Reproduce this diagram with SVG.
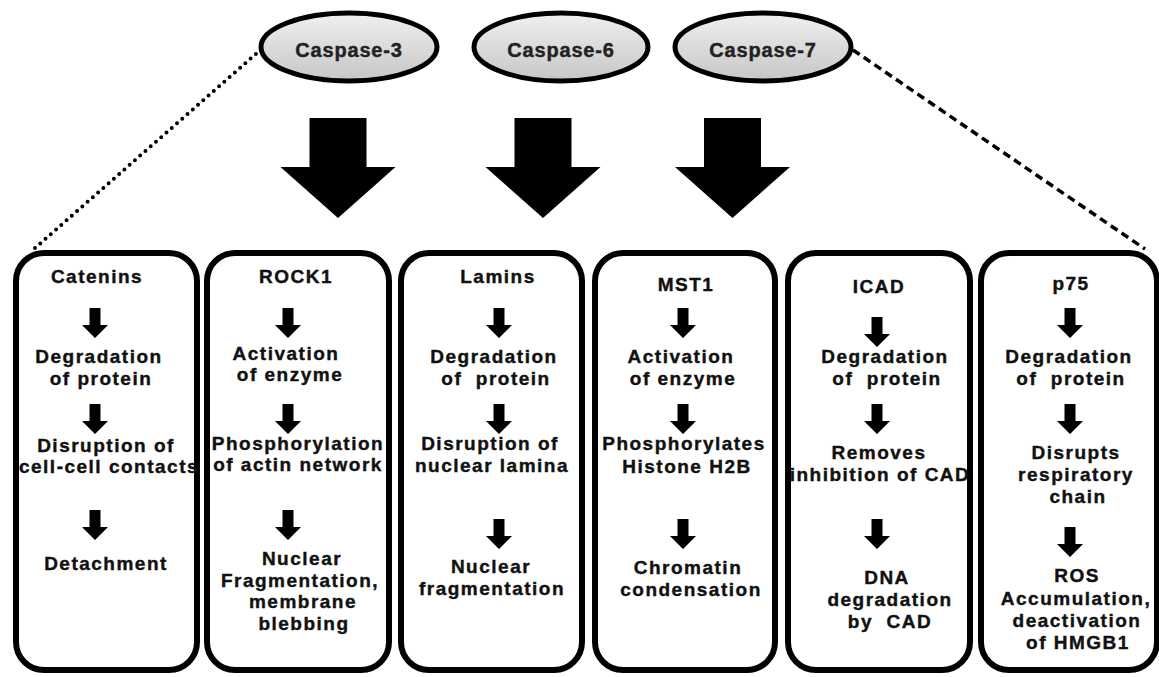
<svg xmlns="http://www.w3.org/2000/svg" xmlns:xlink="http://www.w3.org/1999/xlink" width="1159" height="677" viewBox="0 0 1159 677">
<style>
.bg{fill:#ffffff}
.box{fill:#ffffff;stroke:#000;stroke-width:6}
.ell{fill:url(#eg);stroke:#000;stroke-width:5}
.t{font-family:"Liberation Sans",Arial,sans-serif;font-weight:bold;font-size:19px;letter-spacing:1.5px;fill:#111;stroke:#111;stroke-width:0.4px;text-anchor:middle}
.ct{font-family:"Liberation Sans",Arial,sans-serif;font-weight:bold;font-size:20px;letter-spacing:0.8px;fill:#222;stroke:#222;stroke-width:0.4px;text-anchor:middle}
.dot{fill:none;stroke:#000;stroke-width:4;stroke-linecap:round;stroke-dasharray:0 7}
.dash{fill:none;stroke:#000;stroke-width:3.5;stroke-dasharray:8 5}
</style>
<defs>
<linearGradient id="eg" x1="0" y1="0" x2="0" y2="1">
<stop offset="0" stop-color="#f0f0f0"/>
<stop offset="1" stop-color="#c6c6c6"/>
</linearGradient>
<path id="sa" d="M-5.5,0 h11 v17 h7.5 l-13,13 l-13,-13 h7.5 z" fill="#000"/>
<path id="ba" d="M-28.5,0 h57 v49 h29 l-57.5,51 l-57.5,-51 h29 z" fill="#000"/>
</defs>
<rect class="bg" x="0" y="0" width="1159" height="677"/>

<g id="connectors">
<line class="dot" x1="35" y1="248" x2="257" y2="53"/>
<line class="dash" x1="853" y1="50" x2="1145" y2="249"/>
<use xlink:href="#ba" x="338" y="118"/>
<use xlink:href="#ba" x="543" y="118"/>
<use xlink:href="#ba" x="732.5" y="118"/>
</g>

<g id="caspase3">
<ellipse class="ell" cx="349" cy="47" rx="88" ry="34"/>
<text class="ct" x="349" y="57">Caspase-3</text>
</g>
<g id="caspase6">
<ellipse class="ell" cx="561" cy="47" rx="87" ry="34"/>
<text class="ct" x="561" y="57">Caspase-6</text>
</g>
<g id="caspase7">
<ellipse class="ell" cx="763" cy="47" rx="88" ry="34"/>
<text class="ct" x="763" y="57">Caspase-7</text>
</g>

<g id="catenins">
<rect class="box" x="16" y="253" width="181" height="417" rx="28"/>
<text class="t" x="97" y="283">Catenins</text>
<use xlink:href="#sa" x="95" y="308"/>
<text class="t" x="99" y="363">Degradation</text>
<text class="t" x="101" y="385">of protein</text>
<use xlink:href="#sa" x="95" y="404"/>
<text class="t" x="106" y="452">Disruption of</text>
<text class="t" x="109" y="473">cell-cell contacts</text>
<use xlink:href="#sa" x="95" y="510"/>
<text class="t" x="106" y="570">Detachment</text>
</g>

<g id="rock1">
<rect class="box" x="207" y="253" width="182" height="417" rx="28"/>
<text class="t" x="296" y="283">ROCK1</text>
<use xlink:href="#sa" x="288" y="308"/>
<text class="t" x="286" y="360">Activation</text>
<text class="t" x="290" y="381">of enzyme</text>
<use xlink:href="#sa" x="288" y="404"/>
<text class="t" x="298" y="450">Phosphorylation</text>
<text class="t" x="298" y="471">of actin network</text>
<use xlink:href="#sa" x="288" y="510"/>
<text class="t" x="302" y="565">Nuclear</text>
<text class="t" x="300" y="587">Fragmentation,</text>
<text class="t" x="303" y="608">membrane</text>
<text class="t" x="304" y="630">blebbing</text>
</g>

<g id="lamins">
<rect class="box" x="401" y="253" width="181" height="417" rx="28"/>
<text class="t" x="498" y="283">Lamins</text>
<use xlink:href="#sa" x="499" y="308"/>
<text class="t" x="494" y="363">Degradation</text>
<text class="t" x="496" y="385" xml:space="preserve">of  protein</text>
<use xlink:href="#sa" x="499" y="404"/>
<text class="t" x="490" y="450">Disruption of</text>
<text class="t" x="492" y="472">nuclear lamina</text>
<use xlink:href="#sa" x="499" y="519"/>
<text class="t" x="491" y="573">Nuclear</text>
<text class="t" x="492" y="595">fragmentation</text>
</g>

<g id="mst1">
<rect class="box" x="595" y="253" width="180" height="417" rx="28"/>
<text class="t" x="686" y="291">MST1</text>
<use xlink:href="#sa" x="683" y="308"/>
<text class="t" x="681" y="363">Activation</text>
<text class="t" x="683" y="385">of enzyme</text>
<use xlink:href="#sa" x="683" y="404"/>
<text class="t" x="684" y="450">Phosphorylates</text>
<text class="t" x="687" y="473">Histone H2B</text>
<use xlink:href="#sa" x="683" y="519"/>
<text class="t" x="688" y="574">Chromatin</text>
<text class="t" x="691" y="596">condensation</text>
</g>

<g id="icad">
<rect class="box" x="788" y="253" width="182" height="417" rx="28"/>
<text class="t" x="879" y="293">ICAD</text>
<use xlink:href="#sa" x="877" y="317"/>
<text class="t" x="885" y="363">Degradation</text>
<text class="t" x="887" y="385" xml:space="preserve">of  protein</text>
<use xlink:href="#sa" x="877" y="404"/>
<text class="t" x="879" y="459">Removes</text>
<text class="t" x="880" y="481">inhibition of CAD</text>
<use xlink:href="#sa" x="877" y="519"/>
<text class="t" x="887" y="584">DNA</text>
<text class="t" x="890" y="606">degradation</text>
<text class="t" x="890" y="628" xml:space="preserve">by  CAD</text>
</g>

<g id="p75">
<rect class="box" x="981" y="253" width="176" height="417" rx="28"/>
<text class="t" x="1071" y="290">p75</text>
<use xlink:href="#sa" x="1070" y="308"/>
<text class="t" x="1069" y="363">Degradation</text>
<text class="t" x="1071" y="385" xml:space="preserve">of  protein</text>
<use xlink:href="#sa" x="1070" y="404"/>
<text class="t" x="1076" y="459">Disrupts</text>
<text class="t" x="1076" y="481">respiratory</text>
<text class="t" x="1078" y="503">chain</text>
<use xlink:href="#sa" x="1070" y="527"/>
<text class="t" x="1077" y="582">ROS</text>
<text class="t" x="1076" y="605">Accumulation,</text>
<text class="t" x="1077" y="627">deactivation</text>
<text class="t" x="1078" y="649">of HMGB1</text>
</g>
</svg>
